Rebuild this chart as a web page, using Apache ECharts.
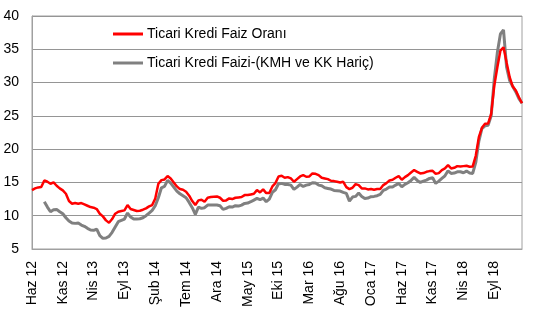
<!DOCTYPE html>
<html>
<head>
<meta charset="utf-8">
<script src="https://cdn.jsdelivr.net/npm/echarts@6/dist/echarts.min.js"></script>
<style>html,body{margin:0;padding:0;background:#fff;}#c{width:540px;height:324px;}</style>
</head>
<body>
<div id="c"></div>
<script>
// Tick labels shown every 5 months (every 10 half-month categories)
const tickLabels = ['Haz 12','Kas 12','Nis 13','Eyl 13','Şub 14','Tem 14','Ara 14','May 15','Eki 15','Mar 16','Ağu 16','Oca 17','Haz 17','Kas 17','Nis 18','Eyl 18'];
const monthNames = ['Oca','Şub','Mar','Nis','May','Haz','Tem','Ağu','Eyl','Eki','Kas','Ara'];

// Half-month observations, Jun 2012 .. Jan 2019
const redSeries = [
13.85,14.1,14.25,14.3,15.3,15.1,14.8,15.0,14.5,14.1,
13.8,13.3,12.2,11.8,11.9,11.8,11.9,11.7,11.5,11.3,
11.2,11.0,10.3,9.9,9.3,8.95,9.5,10.3,10.6,10.7,
10.8,11.6,11.0,10.85,10.7,10.75,10.9,11.1,11.4,11.6,
12.6,14.8,15.35,15.45,15.95,15.6,15.0,14.4,14.0,13.9,
13.6,13.0,12.2,11.6,12.3,12.4,12.1,12.7,12.8,12.85,
12.9,12.7,12.25,12.3,12.6,12.5,12.7,12.75,12.8,13.1,
13.1,13.2,13.3,13.85,13.5,13.95,13.4,13.4,14.4,14.9,
15.9,16.0,15.7,15.8,15.6,15.1,15.5,15.9,16.1,15.85,
15.9,16.35,16.3,16.1,15.7,15.6,15.5,15.25,15.2,15.1,
15.0,15.1,14.3,14.0,14.2,14.75,14.6,14.1,14.1,13.95,
14.0,13.9,14.0,14.0,14.6,14.9,15.3,15.4,15.7,15.95,
15.4,15.8,16.1,16.5,16.85,16.6,16.35,16.4,16.6,16.7,
16.75,16.3,16.4,16.85,17.1,17.6,17.1,17.2,17.45,17.4,
17.45,17.5,17.35,17.4,19.0,21.8,23.2,23.8,23.85,25.3,
29.5,32.3,34.8,35.3,33.0,30.8,29.4,28.8,27.8,26.9
];
const graySeries = [
null,null,null,null,12.1,11.3,10.6,10.9,10.95,10.6,
10.3,9.7,9.2,8.9,8.85,8.9,8.6,8.4,8.1,7.85,
7.8,8.0,7.0,6.6,6.65,6.9,7.5,8.3,9.1,9.3,
9.5,10.4,9.8,9.5,9.5,9.55,9.7,10.0,10.4,10.8,
11.5,12.7,14.2,14.4,15.3,14.9,14.3,13.7,13.3,13.0,
12.7,12.0,11.2,10.2,11.3,11.1,11.2,11.6,11.6,11.6,
11.6,11.5,10.95,11.1,11.35,11.3,11.5,11.45,11.6,11.85,
11.9,12.1,12.35,12.6,12.4,12.65,12.1,12.5,13.5,13.9,
14.8,14.85,14.7,14.7,14.6,13.95,14.3,14.7,14.4,14.6,
14.7,14.95,14.9,14.6,14.5,14.2,14.1,14.0,13.8,13.75,
13.7,13.5,13.35,12.2,12.8,12.9,13.4,12.9,12.6,12.65,
12.85,12.9,13.0,13.2,13.8,14.0,14.3,14.3,14.6,14.85,
14.35,14.7,14.95,15.3,15.75,15.3,15.0,15.2,15.35,15.6,
15.7,14.85,15.2,15.6,16.0,16.75,16.35,16.4,16.6,16.6,
16.45,16.7,16.4,16.35,18.0,21.2,23.1,23.5,23.6,25.0,
30.5,34.5,37.3,37.9,32.3,30.3,29.4,28.6,27.6,26.9
];

const seriesNames = ['Ticari Kredi Faiz Oranı','Ticari Kredi Faizi-(KMH ve KK Hariç)'];

// category names: two per month starting Jun 2012
const categories = [];
for (let k = 0; k < redSeries.length; k++) {
  const m = 5 + Math.floor(k / 2);
  const yr = 12 + Math.floor(m / 12);
  categories.push(monthNames[m % 12] + ' ' + yr + (k % 2 ? ' b' : ' a'));
}

const chart = echarts.init(document.getElementById('c'), null, {renderer: 'canvas'});
const font = 'Arial, "Liberation Sans", sans-serif';
chart.setOption({
  animation: false,
  backgroundColor: '#fff',
  grid: {left: 32, right: 18, top: 16, bottom: 75, show: true, borderColor: '#a0a0a0', borderWidth: 1, backgroundColor: 'transparent'},
  legend: {
    orient: 'vertical', left: 108, top: 21,
    itemWidth: 30, itemHeight: 3, itemGap: 13, icon: 'rect',
    textStyle: {fontSize: 14, color: '#000', fontFamily: font, lineHeight: 16, padding: [0,0,0,-1]},
    data: [seriesNames[0], seriesNames[1]]
  },
  xAxis: {
    type: 'category', data: categories, boundaryGap: false,
    axisLine: {show: true, lineStyle: {color: '#a0a0a0', width: 1}},
    axisTick: {show: false},
    splitLine: {show: false},
    axisLabel: {
      rotate: 90, margin: 12, fontSize: 14, color: '#000', fontFamily: font,
      interval: function (index) { return index % 10 === 0; },
      formatter: function (value, index) { return tickLabels[index / 10] || ''; }
    }
  },
  yAxis: {
    type: 'value', min: 5, max: 40, interval: 5,
    axisLine: {show: true, lineStyle: {color: '#a0a0a0', width: 1}},
    axisTick: {show: false},
    splitLine: {show: true, lineStyle: {color: '#959595', width: 1}},
    axisLabel: {fontSize: 14, color: '#000', fontFamily: font, margin: 13}
  },
  series: [
    {name: seriesNames[1], type: 'line', data: graySeries, showSymbol: false, symbol: 'none',
     lineStyle: {color: '#808080', width: 3}, itemStyle: {color: '#808080'}, z: 2},
    {name: seriesNames[0], type: 'line', data: redSeries, showSymbol: false, symbol: 'none',
     lineStyle: {color: '#ff0000', width: 2.5}, itemStyle: {color: '#ff0000'}, z: 3}
  ]
});
</script>
</body>
</html>
